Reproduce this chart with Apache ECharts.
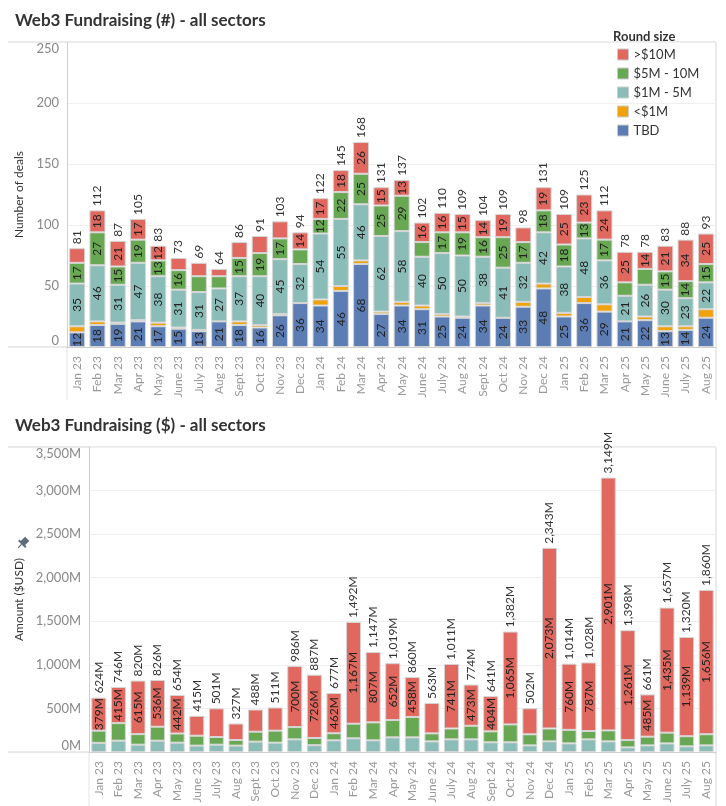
<!DOCTYPE html>
<html>
<head>
<meta charset="utf-8">
<script src="https://cdn.jsdelivr.net/npm/echarts@6/dist/echarts.min.js"></script>
<style>
  html, body { margin: 0; padding: 0; background: #fff; }
  #main { width: 726px; height: 806px; }
</style>
</head>
<body>
<div id="main"></div>
<script>
// months shared by both charts
var months = ['Jan 23','Feb 23','Mar 23','Apr 23','May 23','June 23','July 23','Aug 23','Sept 23','Oct 23','Nov 23','Dec 23',
              'Jan 24','Feb 24','Mar 24','Apr 24','May 24','June 24','July 24','Aug 24','Sept 24','Oct 24','Nov 24','Dec 24',
              'Jan 25','Feb 25','Mar 25','Apr 25','May 25','June 25','July 25','Aug 25'];

// number of deals per round size
var dealsTBD    = [12,18,19,21,17,15,13,21,18,16,26,36,34,46,68,27,34,31,25,24,34,24,33,48,25,36,29,21,22,13,14,24];
var dealsUnder1 = [5,3,1,1,3,1,1,0,3,2,1,0,5,4,3,2,3,3,2,1,2,0,4,4,3,5,6,0,3,4,3,7];
var deals1to5   = [35,46,31,47,38,31,31,27,37,40,45,32,54,55,46,62,58,40,50,50,38,41,32,42,38,48,36,21,26,30,23,22];
var deals5to10  = [17,27,15,19,13,16,13,10,15,19,17,12,12,22,25,25,29,12,17,19,16,25,17,18,18,13,17,11,13,15,14,15];
var dealsOver10 = [12,18,21,17,12,10,11,6,13,14,14,14,17,18,26,15,13,16,16,15,14,19,12,19,25,23,24,25,14,21,34,25];

// segment labels that tableau dropped (too tight)
var hiddenDealLabels = [
  ['>$10M','Jan 23'],['>$10M','June 23'],['>$10M','July 23'],['>$10M','Aug 23'],['>$10M','Sept 23'],
  ['>$10M','Oct 23'],['>$10M','Nov 23'],['>$10M','Nov 24'],
  ['$5M - 10M','July 23'],['$5M - 10M','Aug 23'],['$5M - 10M','Dec 23'],['$5M - 10M','June 24'],
  ['$5M - 10M','Apr 25'],['$5M - 10M','May 25']
];

// amount raised ($M) per round size
var amount1to5   = [105,130,84,130,107,73,84,73,119,107,145,78,134,157,134,168,168,122,145,145,111,111,76,122,99,145,122,53,76,99,65,76];
var amount5to10  = [140,201,121,160,105,114,88,65,114,138,141,83,81,168,206,199,234,92,125,156,126,206,127,148,155,96,126,84,100,123,116,128];
var amountOver10 = [379,415,615,536,442,228,329,189,255,266,700,726,462,1167,807,652,458,349,741,473,404,1065,299,2073,760,787,2901,1261,485,1435,1139,1656];
var amountTotal  = [624,746,820,826,654,415,501,327,488,511,986,887,677,1492,1147,1019,860,563,1011,774,641,1382,502,2343,1014,1028,3149,1398,661,1657,1320,1860];

var dealTicks = [0, 50, 100, 150, 200, 250];
var amountTicks = [0, 500, 1000, 1500, 2000, 2500, 3000, 3500];

var colors = {
  '>$10M': '#e0685f',
  '$5M - 10M': '#68a853',
  '$1M - 5M': '#8bbdb8',
  '<$1M': '#f0a20a',
  'TBD': '#5b7db4'
};
var FONT = 'Lato, "Open Sans", sans-serif';

function fmtM(v) {
  return v.toString().replace(/\B(?=(\d{3})+(?!\d))/g, ',') + 'M';
}

var dealTotals = months.map(function (m, i) {
  return dealsTBD[i] + dealsUnder1[i] + deals1to5[i] + deals5to10[i] + dealsOver10[i];
});

function isHidden(name, month) {
  for (var k = 0; k < hiddenDealLabels.length; k++) {
    if (hiddenDealLabels[k][0] == name && hiddenDealLabels[k][1] == month) return true;
  }
  return false;
}

var segLabel = {
  show: true, position: 'inside', rotate: 90,
  color: '#222', fontSize: 12, fontFamily: FONT
};
var totLabel = {
  show: true, position: 'top', rotate: 90, align: 'left', verticalAlign: 'middle',
  distance: 4, color: '#333', fontSize: 12, fontFamily: FONT
};
var border = { borderColor: '#d6d6d6', borderWidth: 1 };

function dealSeries(name, values, labelled) {
  return {
    name: name, type: 'bar', stack: 'deals', xAxisIndex: 0, yAxisIndex: 0,
    barWidth: 16,
    itemStyle: Object.assign({ color: colors[name] }, border),
    label: labelled ? segLabel : { show: false },
    data: values.map(function (v, i) {
      if (labelled && isHidden(name, months[i])) return { value: v, label: { show: false } };
      return v;
    })
  };
}

function amountSeries(name, values, showFn) {
  return {
    name: name, type: 'bar', stack: 'amount', xAxisIndex: 1, yAxisIndex: 1,
    barWidth: 15,
    itemStyle: Object.assign({ color: colors[name] }, border),
    label: showFn ? Object.assign({}, segLabel, { formatter: function (p) { return fmtM(p.value); } }) : { show: false },
    data: values.map(function (v) {
      if (showFn && !showFn(v)) return { value: v, label: { show: false } };
      return v;
    })
  };
}

var axisLabelX = { rotate: 90, color: '#999', fontSize: 12, fontFamily: FONT, margin: 9, interval: 0 };

var option = {
  animation: false,
  textStyle: { fontFamily: FONT },
  title: [
    { text: 'Web3 Fundraising (#) - all sectors', left: 10, top: 7,
      textStyle: { fontSize: 17, fontWeight: 'bold', color: '#333', fontFamily: FONT } },
    { text: 'Web3 Fundraising ($) - all sectors', left: 10, top: 412,
      textStyle: { fontSize: 17, fontWeight: 'bold', color: '#333', fontFamily: FONT } },
    { text: 'Round size', left: 608, top: 25,
      textStyle: { fontSize: 13, fontWeight: 'bold', color: '#333', fontFamily: FONT } }
  ],
  legend: {
    orient: 'vertical', left: 612, top: 43, itemWidth: 11, itemHeight: 11, itemGap: 6,
    icon: 'rect', data: ['>$10M', '$5M - 10M', '$1M - 5M', '<$1M', 'TBD'],
    textStyle: { fontSize: 13, color: '#333', fontFamily: FONT },
    itemStyle: { borderColor: '#ccc', borderWidth: 1 }
  },
  grid: [
    { left: 67, right: 10, top: 42, bottom: 459 },
    { left: 89, right: 10, top: 447, bottom: 54 }
  ],
  xAxis: [
    { type: 'category', gridIndex: 0, data: months,
      axisLine: { lineStyle: { color: '#cfcfcf' } },
      axisTick: { alignWithLabel: true, length: 4, lineStyle: { color: '#d8d8d8' } },
      axisLabel: axisLabelX },
    { type: 'category', gridIndex: 1, data: months,
      axisLine: { lineStyle: { color: '#cfcfcf' } },
      axisTick: { alignWithLabel: true, length: 4, lineStyle: { color: '#d8d8d8' } },
      axisLabel: axisLabelX }
  ],
  yAxis: [
    { type: 'value', gridIndex: 0, min: dealTicks[0], max: dealTicks[dealTicks.length - 1], interval: 50,
      name: 'Number of deals', nameLocation: 'middle', nameGap: 37,
      nameTextStyle: { color: '#333', fontSize: 12, fontFamily: FONT },
      axisLine: { show: true, lineStyle: { color: '#cfcfcf' } },
      axisTick: { show: false },
      splitLine: { lineStyle: { color: '#efefef' } },
      axisLabel: { color: '#888', fontSize: 13, margin: 8, fontFamily: FONT,
                   verticalAlignMaxLabel: 'top', verticalAlignMinLabel: 'bottom' } },
    { type: 'value', gridIndex: 1, min: amountTicks[0], max: amountTicks[amountTicks.length - 1], interval: 500,
      name: 'Amount ($USD)', nameLocation: 'middle', nameGap: 57,
      nameTextStyle: { color: '#333', fontSize: 12, fontFamily: FONT },
      axisLine: { show: true, lineStyle: { color: '#cfcfcf' } },
      axisTick: { show: false },
      splitLine: { lineStyle: { color: '#efefef' } },
      axisLabel: { color: '#888', fontSize: 13, margin: 8, fontFamily: FONT,
                   formatter: function (v) { return fmtM(v); },
                   verticalAlignMaxLabel: 'top', verticalAlignMinLabel: 'bottom' } }
  ],
  graphic: [
    { type: 'line', shape: { x1: 8, y1: 42, x2: 716, y2: 42 }, style: { stroke: '#d6d6d6', lineWidth: 1 }, silent: true },
    { type: 'line', shape: { x1: 8, y1: 347, x2: 67, y2: 347 }, style: { stroke: '#d6d6d6', lineWidth: 1 }, silent: true },
    { type: 'line', shape: { x1: 67, y1: 347, x2: 67, y2: 400 }, style: { stroke: '#e4e4e4', lineWidth: 1 }, silent: true },
    { type: 'line', shape: { x1: 716, y1: 42, x2: 716, y2: 400 }, style: { stroke: '#d6d6d6', lineWidth: 1 }, silent: true },
    { type: 'line', shape: { x1: 8, y1: 447, x2: 716, y2: 447 }, style: { stroke: '#d6d6d6', lineWidth: 1 }, silent: true },
    { type: 'line', shape: { x1: 8, y1: 752, x2: 89, y2: 752 }, style: { stroke: '#d6d6d6', lineWidth: 1 }, silent: true },
    { type: 'line', shape: { x1: 89, y1: 752, x2: 89, y2: 806 }, style: { stroke: '#e4e4e4', lineWidth: 1 }, silent: true },
    { type: 'line', shape: { x1: 716, y1: 447, x2: 716, y2: 806 }, style: { stroke: '#d6d6d6', lineWidth: 1 }, silent: true },
    // pin icon next to the amount axis title
    { type: 'group', x: 23, y: 543, rotation: -Math.PI / 4, silent: true, children: [
      { type: 'rect', shape: { x: -3, y: -6, width: 6, height: 7 }, style: { fill: '#5f6b7d' } },
      { type: 'rect', shape: { x: -5, y: 0, width: 10, height: 2 }, style: { fill: '#5f6b7d' } },
      { type: 'line', shape: { x1: 0, y1: 2, x2: 0, y2: 7 }, style: { stroke: '#5f6b7d', lineWidth: 1.2 } }
    ] }
  ],
  series: [
    dealSeries('TBD', dealsTBD, true),
    dealSeries('<$1M', dealsUnder1, false),
    dealSeries('$1M - 5M', deals1to5, true),
    dealSeries('$5M - 10M', deals5to10, true),
    dealSeries('>$10M', dealsOver10, true),
    { name: 'dealTotal', type: 'bar', xAxisIndex: 0, yAxisIndex: 0, barWidth: 16, barGap: '-100%', z: 1,
      silent: true, itemStyle: { color: 'rgba(0,0,0,0)' }, label: totLabel, data: dealTotals },

    amountSeries('$1M - 5M', amount1to5, null),
    amountSeries('$5M - 10M', amount5to10, null),
    amountSeries('>$10M', amountOver10, function (v) { return v >= 370; }),
    { name: 'amountTotal', type: 'bar', xAxisIndex: 1, yAxisIndex: 1, barWidth: 15, barGap: '-100%', z: 1,
      silent: true, itemStyle: { color: 'rgba(0,0,0,0)' },
      label: Object.assign({}, totLabel, { formatter: function (p) { return fmtM(p.value); } }),
      data: amountTotal }
  ]
};

var myChart = echarts.init(document.getElementById('main'));
myChart.setOption(option);
</script>
</body>
</html>
